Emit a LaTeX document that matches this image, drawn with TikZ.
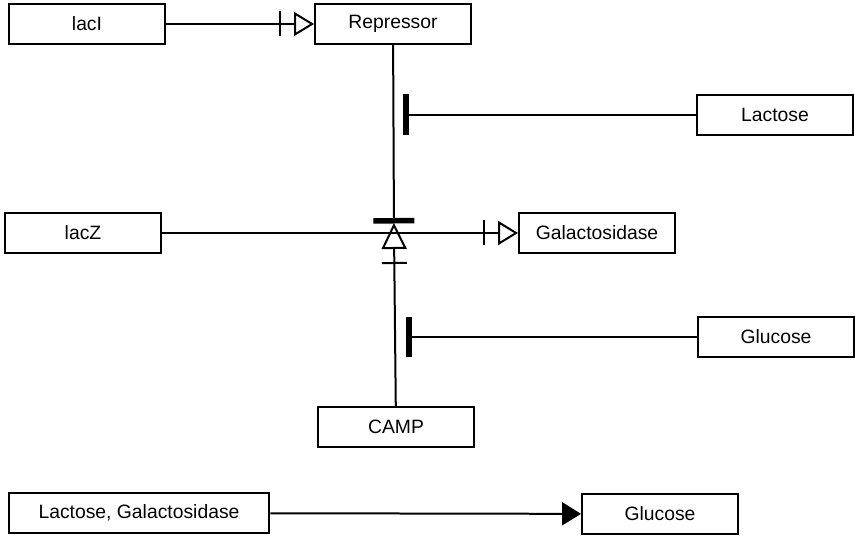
\documentclass[tikz,border=0pt]{standalone}
\usepackage{fontspec}
\setmainfont{Liberation Sans}
\usetikzlibrary{arrows.meta}

\begin{document}
\begin{tikzpicture}[
  x=0.02cm, y=-0.02cm, line width=0.04cm,
  species/.style={draw, line width=0.04cm, minimum width=3.12cm, minimum height=0.8cm,
                  font=\fontsize{11}{13}\selectfont},
  nec/.style={-{Bar[width=0.5cm, sep=0.26cm] Triangle[open, length=0.4cm, width=0.48cm]}},
  necup/.style={-{Bar[width=0.5cm, sep=0.26cm] Triangle[open, length=0.52cm, width=0.5cm]}},
  inh/.style={-{Bar[width=0.82cm, line width=0.11cm]}},
  prod/.style={-{Triangle[length=0.38cm, width=0.46cm]}},
]
\useasboundingbox (0,0) rectangle (855,536);

\node[species] (laci)    at (87,24)   {lacI};
\node[species] (rep)     at (393,24)  {Repressor};
\node[species] (lactose) at (775,115) {Lactose};
\node[species] (lacz)    at (83,233)  {lacZ};
\node[species] (galac)   at (597,233) {Galactosidase};
\node[species] (glc)     at (776,337) {Glucose};
\node[species] (camp)    at (396,427) {CAMP};
\node[species, minimum width=5.22cm] (lacgal) at (139,513) {Lactose, Galactosidase};
\node[species] (glcout)  at (660,514) {Glucose};

% process point where the modifiers meet the lacZ line
\coordinate (proc)       at (394,233);
\coordinate (repbranch)  at (394,115);
\coordinate (campbranch) at (395,337);

\draw[nec] (laci) -- (rep);
\draw[nec] (lacz) -- (galac);
\draw[inh, shorten >=0.19cm] (rep) -- (proc);
\draw[necup, shorten >=-0.2cm] (camp) -- (proc);
\draw[inh, shorten >=0.18cm] (lactose) -- (repbranch);
\draw[inh, shorten >=0.22cm] (glc) -- (campbranch);

\draw[prod] (lacgal) -- (glcout);

\end{tikzpicture}
\end{document}
